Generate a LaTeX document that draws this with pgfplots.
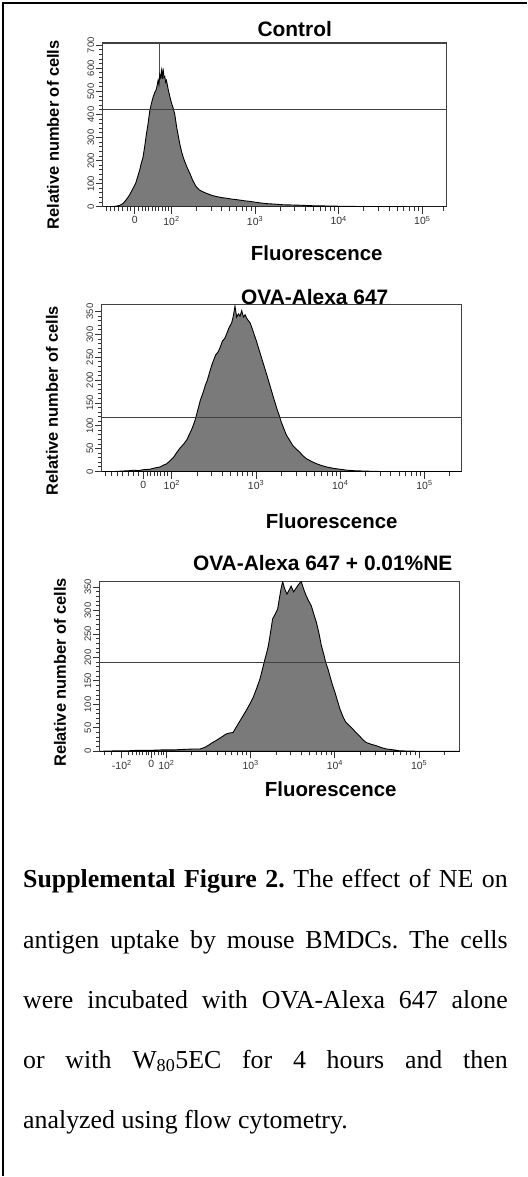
\documentclass[border=0pt]{standalone}
\usepackage{pgfplots}
\pgfplotsset{compat=1.18}
\usepackage{fontspec}
\setmainfont{Liberation Serif}
\newfontfamily\arial{Liberation Sans}

\pgfplotsset{
  facs/.style={
    scale only axis,
    axis line style={black!75, line width=1.1bp},
    tick style={black!80, line width=1bp},
    major tick length=7bp, minor tick length=4bp,
    tick align=outside, xtick pos=bottom, ytick pos=left,
    ymin=0,
    /pgf/number format/assume math mode=true,
    scaled y ticks=false,
    y tick label style={rotate=90, anchor=south, inner sep=1.5bp,
      font=\arial\fontsize{9.5}{10}\selectfont, text=black!80},
    x tick label style={font=\arial\fontsize{10.5}{10}\selectfont, text=black!80, inner sep=2bp},
  },
  hist/.style={fill=black!52, draw=black, line width=0.9bp},
  gate/.style={black!75, line width=1.1bp},
}
\newcommand{\ttl}{\arial\bfseries\fontsize{21}{21}\selectfont}
\newcommand{\xlab}{\arial\bfseries\fontsize{20.5}{21}\selectfont}
\newcommand{\ylab}{\arial\bfseries\fontsize{16.5}{17}\selectfont}

\begin{document}
\frenchspacing
\begin{tikzpicture}
\path (0,0) rectangle (527bp,-1177bp);
\draw[line width=2.2bp] (3bp,-1177bp) -- (3bp,-3bp) -- (527bp,-3bp);

% Control
\begin{axis}[facs, at={(103bp,-207bp)}, anchor=south west,
    width=344bp, height=164bp,
    xmin=1.18, xmax=5.29, ymax=710,
    xtick={1.56,2,3,4,5},
    xticklabels={0,10\textsuperscript{2},10\textsuperscript{3},10\textsuperscript{4},10\textsuperscript{5}},
    minor xtick={1.22,1.27,1.32,1.37,1.42,1.47,1.51,1.61,1.65,1.69,1.73,1.77,1.81,1.85,1.89,1.93,1.97,
      2.301,2.477,2.602,2.699,2.778,2.845,2.903,2.954,
      3.301,3.477,3.602,3.699,3.778,3.845,3.903,3.954,
      4.301,4.477,4.602,4.699,4.778,4.845,4.903,4.954,5.25},
    ytick={0,100,...,700}, minor y tick num=4]
\addplot[black!70, line width=1bp] coordinates {(1.86,0) (1.86,710)};
\addplot[hist] coordinates {
(1.18,0) (1.25,0) (1.30,1) (1.34,3) (1.38,6) (1.42,14) (1.46,31) (1.50,52)
(1.54,80) (1.57,100) (1.60,135) (1.62,160) (1.64,190) (1.66,215) (1.68,262)
(1.70,315) (1.72,360) (1.74,414) (1.76,448) (1.78,475) (1.80,495) (1.82,510)
(1.84,548) (1.85,530) (1.86,572) (1.87,560) (1.88,590) (1.89,555) (1.90,600)
(1.91,560) (1.92,565) (1.93,540) (1.94,548) (1.96,510) (1.98,478) (2.00,450)
(2.02,428) (2.04,400) (2.06,350) (2.08,310) (2.10,272) (2.12,240) (2.14,215)
(2.16,195) (2.19,168) (2.22,145) (2.25,118) (2.29,90) (2.33,74) (2.37,66)
(2.42,58) (2.48,50) (2.53,45) (2.60,40) (2.66,37) (2.73,33) (2.80,30)
(2.87,26) (2.93,24) (3.00,20) (3.06,17) (3.13,14) (3.22,12) (3.33,9)
(3.43,8) (3.53,7) (3.65,5) (3.80,4) (3.93,3) (4.10,2) (4.33,1) (4.60,1)
(5.00,0) (5.29,0)} \closedcycle;
\addplot[gate] coordinates {(1.18,423) (5.29,423)};
\end{axis}
\node[font=\ttl] at (295bp,-29bp) {Control};
\node[font=\xlab] at (317bp,-253bp) {Fluorescence};
\node[font=\ylab, rotate=90] at (53bp,-135bp) {Relative number of cells};

% OVA-Alexa 647
\begin{axis}[facs, at={(102bp,-472bp)}, anchor=south west,
    width=360bp, height=167bp,
    xmin=1.17, xmax=5.44, ymax=365,
    xtick={1.66,2,3,4,5},
    xticklabels={0,10\textsuperscript{2},10\textsuperscript{3},10\textsuperscript{4},10\textsuperscript{5}},
    minor xtick={1.21,1.28,1.35,1.42,1.48,1.54,1.60,1.71,1.75,1.79,1.83,1.87,1.91,1.95,
      2.301,2.477,2.602,2.699,2.778,2.845,2.903,2.954,
      3.301,3.477,3.602,3.699,3.778,3.845,3.903,3.954,
      4.301,4.477,4.602,4.699,4.778,4.845,4.903,4.954,5.301},
    ytick={0,50,...,350}, minor y tick num=4]
\addplot[hist] coordinates {
(1.17,0) (1.30,0) (1.40,1) (1.50,2) (1.55,3) (1.60,2) (1.66,4) (1.74,5)
(1.80,8) (1.86,10) (1.90,14) (1.94,17) (1.98,24) (2.02,31) (2.06,42)
(2.10,52) (2.14,60) (2.18,70) (2.21,82) (2.24,94) (2.26,104) (2.28,115)
(2.31,136) (2.34,157) (2.37,172) (2.40,190) (2.42,199) (2.45,218) (2.47,230)
(2.49,241) (2.52,255) (2.55,262) (2.57,270) (2.60,285) (2.63,292) (2.65,301)
(2.68,315) (2.71,325) (2.73,340) (2.75,362) (2.77,338) (2.79,345) (2.81,340)
(2.83,352) (2.85,338) (2.87,343) (2.89,335) (2.91,330) (2.93,325) (2.95,315)
(2.97,304) (3.00,288) (3.03,270) (3.06,252) (3.09,234) (3.13,210) (3.17,185)
(3.21,160) (3.25,136) (3.28,120) (3.30,108) (3.33,94) (3.36,80) (3.40,68)
(3.44,56) (3.48,49) (3.52,42) (3.56,34) (3.60,28) (3.66,22) (3.72,17)
(3.78,13) (3.84,10) (3.92,7) (4.00,5) (4.08,3) (4.15,2) (4.30,1) (4.50,0)
(5.44,0)} \closedcycle;
\addplot[gate] coordinates {(1.17,118) (5.44,118)};
\end{axis}
\node[font=\ttl] at (315bp,-297bp) {OVA-Alexa 647};
\node[font=\xlab] at (332bp,-522bp) {Fluorescence};
\node[font=\ylab, rotate=90] at (52bp,-401bp) {Relative number of cells};

% OVA-Alexa 647 + NE
\begin{axis}[facs, at={(100bp,-752bp)}, anchor=south west,
    width=360bp, height=170bp,
    xmin=1.21, xmax=5.48, ymax=362,
    xtick={1.47,1.82,2,3,4,5},
    xticklabels={-10\textsuperscript{2},0,10\textsuperscript{2},10\textsuperscript{3},10\textsuperscript{4},10\textsuperscript{5}},
    minor xtick={1.27,1.35,1.55,1.60,1.64,1.68,1.72,1.76,1.79,1.86,1.90,1.94,1.97,
      2.301,2.477,2.602,2.699,2.778,2.845,2.903,2.954,
      3.301,3.477,3.602,3.699,3.778,3.845,3.903,3.954,
      4.301,4.477,4.602,4.699,4.778,4.845,4.903,4.954,5.301},
    ytick={0,50,...,350}, minor y tick num=4]
\addplot[hist] coordinates {
(1.21,0) (1.40,1) (1.53,1) (1.65,2) (1.80,2) (1.95,3) (2.08,3) (2.20,4)
(2.32,5) (2.40,5) (2.45,8) (2.50,13) (2.55,19) (2.60,24) (2.65,30) (2.71,37)
(2.75,39) (2.79,40) (2.83,52) (2.87,64) (2.91,76) (2.95,88) (2.99,101)
(3.03,115) (3.07,134) (3.11,154) (3.14,175) (3.17,197) (3.19,210) (3.21,225)
(3.24,258) (3.26,282) (3.29,292) (3.32,303) (3.34,325) (3.36,346) (3.38,362)
(3.40,348) (3.43,335) (3.46,345) (3.48,352) (3.51,340) (3.54,348) (3.57,356)
(3.60,362) (3.63,345) (3.66,331) (3.69,320) (3.72,310) (3.75,292) (3.78,275)
(3.81,252) (3.84,225) (3.87,205) (3.89,190) (3.92,174) (3.94,161) (3.97,142)
(4.00,126) (4.03,108) (4.06,90) (4.10,72) (4.13,62) (4.17,55) (4.21,48)
(4.25,40) (4.29,33) (4.33,25) (4.37,19) (4.43,15) (4.49,12) (4.55,8)
(4.61,5) (4.70,3) (4.77,1) (5.00,0) (5.48,0)} \closedcycle;
\addplot[gate] coordinates {(1.21,190) (5.48,190)};
\end{axis}
\node[font=\ttl] at (323bp,-564bp) {OVA-Alexa 647 + 0.01\%NE};
\node[font=\xlab] at (331bp,-790bp) {Fluorescence};
\node[font=\ylab, rotate=90] at (60bp,-673bp) {Relative number of cells};

% caption
\begin{scope}[every node/.style={anchor=base west, inner sep=0pt, font=\fontsize{26}{26}\selectfont}]
\node at (23bp,-888bp) {\makebox[485bp][s]{\textbf{Supplemental Figure 2.} The effect of NE on}};
\node at (23bp,-949bp) {\makebox[485bp][s]{antigen uptake by mouse BMDCs. The cells}};
\node at (23bp,-1009bp) {\makebox[485bp][s]{were incubated with OVA-Alexa 647 alone}};
\node at (23bp,-1069bp) {\makebox[485bp][s]{or with W\textsubscript{80}5EC for 4 hours and then}};
\node at (23bp,-1130bp) {analyzed using flow cytometry.};
\end{scope}
\end{tikzpicture}
\end{document}
